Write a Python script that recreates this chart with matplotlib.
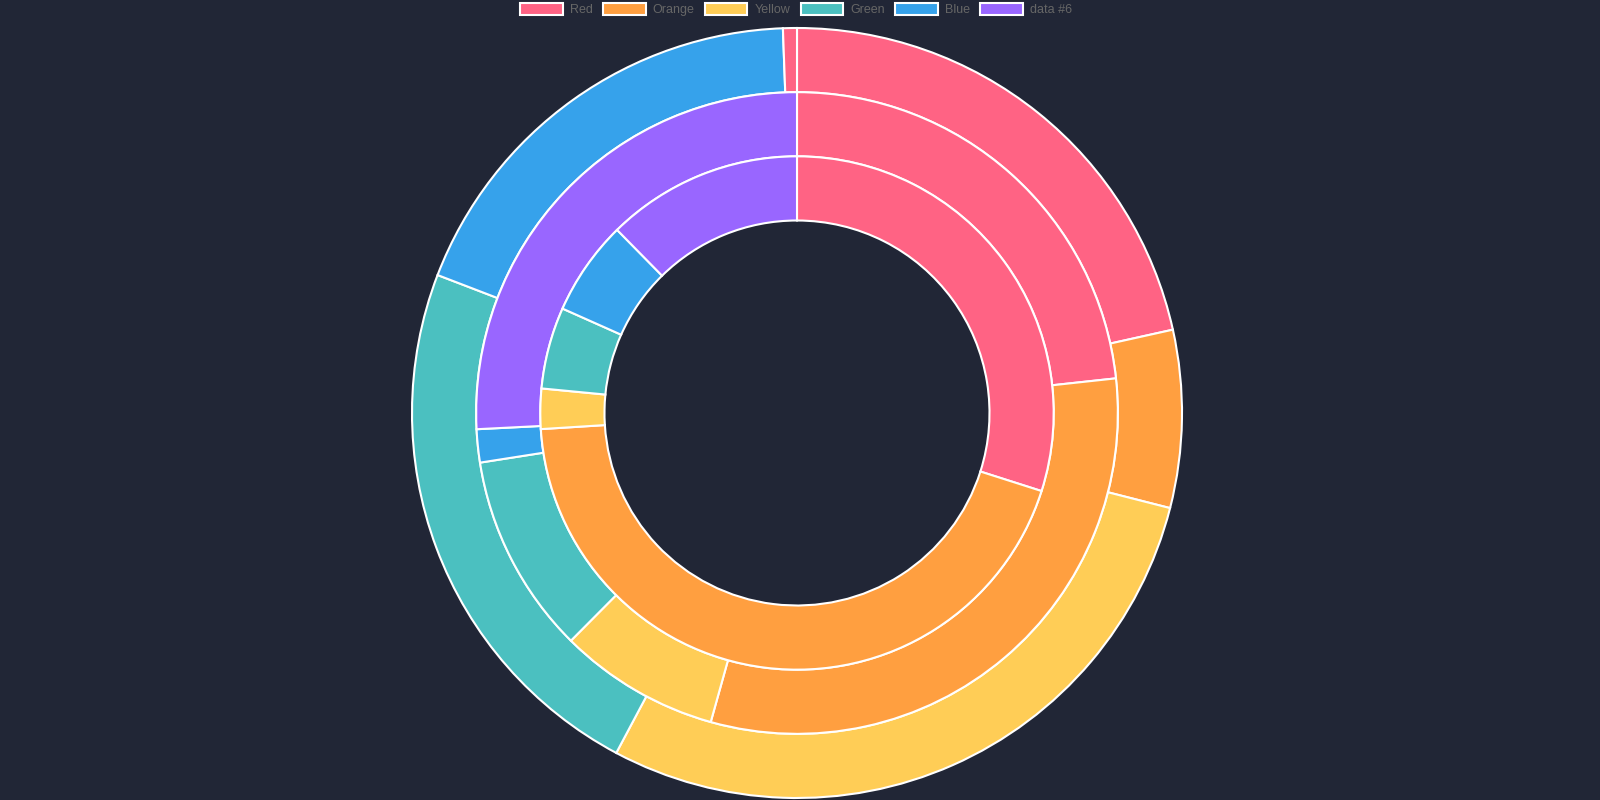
import matplotlib.pyplot as plt
from matplotlib.patches import Patch

plt.rcParams['font.family'] = ['Liberation Sans', 'DejaVu Sans']

labels = ["Red", "Orange", "Yellow", "Green", "Blue", "data #6"]
colors = ["#ff6384", "#ff9f40", "#ffcd56", "#4bc0c0", "#36a2eb", "#9966ff"]

# valores (anillo exterior -> interior)
outer = [77.5, 26.8, 103.7, 83.0, 66.9, 2.1]
middle = [83.8, 111.8, 29.2, 36.3, 6.0, 92.9]
inner = [107.7, 158.7, 9.1, 18.5, 21.5, 44.5]

# el anillo exterior repite el rojo en el sexto trozo
outer_colors = colors[:5] + [colors[0]]

bg = "#212636"

fig = plt.figure(figsize=(16, 8), dpi=100, facecolor=bg)
ax = fig.add_axes([0, 0, 1, 1])
ax.set_facecolor(bg)

centro = (797, 387)
R = 385
ancho = (R - R * 0.5) / 3

anillos = [(outer, outer_colors), (middle, colors), (inner, colors)]
for i, (vals, cols) in enumerate(anillos):
    ax.pie(vals, colors=cols, radius=R - i * ancho, center=centro,
           startangle=90, counterclock=False,
           wedgeprops=dict(width=ancho, edgecolor="white", linewidth=1.5))

ax.set_xlim(0, 1600)
ax.set_ylim(0, 800)
ax.set_aspect("equal")
ax.axis("off")

handles = [Patch(facecolor=c, edgecolor="white", linewidth=1.5) for c in colors]
fig.legend(handles, labels, loc="upper center", bbox_to_anchor=(0.4975, 1.0),
           ncol=6, frameon=False, fontsize=9, labelcolor="#666666",
           handlelength=3.4, handleheight=1.1, handletextpad=0.55,
           columnspacing=0.85, borderpad=0.25, borderaxespad=0)

fig.savefig("out.png", dpi=100, facecolor=bg)
